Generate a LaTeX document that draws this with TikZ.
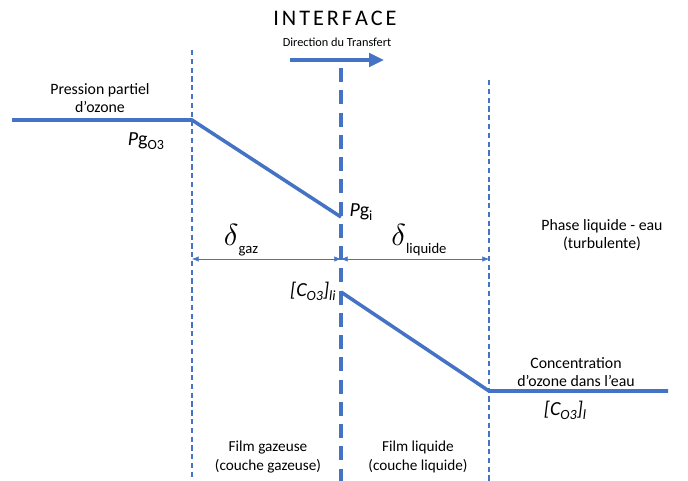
\documentclass[tikz,border=0pt]{standalone}
\usepackage{fontspec}
\setmainfont{Carlito}
\usetikzlibrary{arrows.meta,positioning,calc}
\definecolor{bleu}{HTML}{4472C4}
\newcommand{\petit}[1]{{\fontsize{12}{13}\selectfont #1}}

\begin{document}
\begin{tikzpicture}[
  x=0.03cm, y=-0.03cm,
  label/.style={font=\fontsize{13.5}{16}\selectfont, align=center, inner sep=1pt},
  sym/.style={font=\fontsize{17}{18}\selectfont, inner sep=1pt},
  film/.style={bleu, line width=0.9pt, dash pattern=on 4.5pt off 3pt},
  courbe/.style={bleu, line width=3pt, line join=round},
  cote/.style={bleu, line width=0.5pt, {Latex[length=2mm,width=1.6mm]}-{Latex[length=2mm,width=1.6mm]}}
]
\useasboundingbox[fill=white] (0,0) rectangle (688,481);

% limites des films
\coordinate (gtop) at (192,50);   \coordinate (gbot) at (192,481);
\coordinate (itop) at (341,68);   \coordinate (ibot) at (341,481);
\coordinate (ltop) at (489,80);   \coordinate (lbot) at (489,481);
\draw[film] (gtop) -- (gbot);
\draw[film] (ltop) -- (lbot);
\draw[bleu, line width=3pt, dash pattern=on 12pt off 7pt] (itop) -- (ibot);

\node[font=\fontsize{19}{22}\selectfont, inner sep=0pt] (titre) at (335,18) {I\kern2.5pt N\kern2.5pt T\kern2.5pt E\kern2.5pt R\kern2.5pt F\kern2.5pt A\kern2.5pt C\kern2.5pt E};
\node[font=\fontsize{10.5}{12}\selectfont, inner sep=0pt] (dir) at (337,42) {Direction du Transfert};
\coordinate (fdeb) at (290,60);
\coordinate (ffin) at (384,60);
\draw[bleu, line width=3.5pt, -{Triangle[length=4.5mm,width=4mm]}] (fdeb) -- (ffin);

% profil phase gazeuse
\coordinate (g0) at (12,120);
\coordinate (g1) at (192,120);
\coordinate (g2) at (341,217);
\draw[courbe] (g0) -- (g1) -- (g2);

% profil phase liquide
\coordinate (l0) at (341,292);
\coordinate (l1) at (489,391);
\coordinate (l2) at (668,391);
\draw[courbe] (l0) -- (l1) -- (l2);

% epaisseurs des films
\coordinate (dg) at (192,259);
\coordinate (di) at (341,259);
\coordinate (dl) at (489,259);
\draw[cote] (dg) -- (di);
\draw[cote] (di) -- (dl);
\node[inner sep=0pt] (deltagaz) at (241,240) {\scalebox{2.6}{$\delta$}\fontsize{12.5}{15}\selectfont\raisebox{-1.1ex}{gaz}};
\node[inner sep=0pt] (deltaliq) at (419,240) {\scalebox{2.6}{$\delta$}\fontsize{12.5}{15}\selectfont\raisebox{-1.1ex}{liquide}};

\node[label] (ppo3) at (100,98) {Pression partiel\\d’ozone};
\node[sym] (pgo3) at (146,141) {\textit{P}g\raisebox{-0.4ex}{\petit{O3}}};
\node[sym] (pgi) at (361,212) {\textit{P}g\raisebox{-0.4ex}{\petit{i}}};
\node[sym, anchor=east] (cli) at (337,291) {\textit{[C\raisebox{-0.4ex}{\petit{O3}}]\raisebox{-0.4ex}{\petit{li}}}};
\node[label] (phase) at (602,235) {Phase liquide - eau\\(turbulente)};
\node[label] (conc) at (576,372) {Concentration\\d’ozone dans l’eau};
\node[sym] (cl) at (565,410) {\textit{[C\raisebox{-0.4ex}{\petit{O3}}]\raisebox{-0.4ex}{\petit{l}}}};
\node[label, font=\fontsize{13}{16}\selectfont] (filmgaz) at (268,457) {Film gazeuse\\(couche gazeuse)};
\node[label, font=\fontsize{13}{16}\selectfont] (filmliq) at (418,457) {Film liquide\\(couche liquide)};
\end{tikzpicture}
\end{document}
